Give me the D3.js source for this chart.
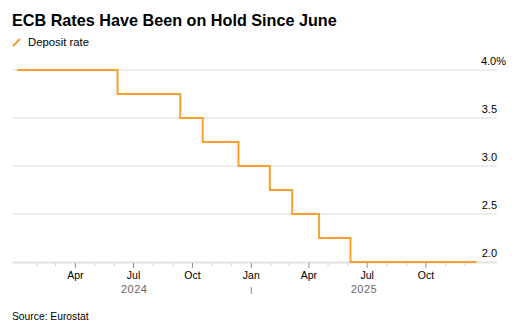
<!DOCTYPE html>
<html><head><meta charset="utf-8">
<script src="https://cdn.jsdelivr.net/npm/d3@7"></script>
<style>
body{margin:0;background:#fff;}
text{font-family:"Liberation Sans",Arial,sans-serif;}
</style></head>
<body><svg id="c" width="520" height="335"></svg>
<script>
const changeDates = ["2024-01-01","2024-06-06","2024-09-12","2024-10-17","2024-12-12","2025-01-30","2025-03-06","2025-04-17","2025-06-05","2025-12-19"];
const depositRate = [4.0,3.75,3.5,3.25,3.0,2.75,2.5,2.25,2.0,2.0];
const yTicks = [2.0,2.5,3.0,3.5,4.0];
const yearLabels = ["2024","2025"];

const parse = d3.timeParse("%Y-%m-%d");
const data = changeDates.map((d,i)=>({date:parse(d), v:depositRate[i]}));
const svg = d3.select("#c");
const orange = "#f7a12c";

const x = d3.scaleTime().domain([new Date(2023,11,24), new Date(2026,0,20)]).range([12,497]);
const y = d3.scaleLinear().domain([2,4]).range([262,70]);

// title
svg.append("text").attr("x",12).attr("y",26).attr("font-size",16.2).attr("font-weight","bold").attr("fill","#000")
  .text("ECB Rates Have Been on Hold Since June");
// legend
svg.append("line").attr("x1",13).attr("y1",46).attr("x2",20).attr("y2",39).attr("stroke",orange).attr("stroke-width",2.2);
svg.append("text").attr("x",28).attr("y",45.5).attr("font-size",11.3).attr("fill","#000").text("Deposit rate");

// gridlines
svg.append("g").selectAll("line").data(yTicks.filter(t=>t>2)).join("line")
  .attr("x1",12).attr("x2",497).attr("y1",d=>y(d)).attr("y2",d=>y(d))
  .attr("stroke","#dcdcdc").attr("stroke-width",1);
// y labels (top one carries the % sign, which hangs past the right edge)
const yl = svg.append("g").selectAll("text").data(yTicks).join("text")
  .attr("x",497).attr("y",d=>y(d)-5).attr("font-size",11).attr("fill","#000")
  .attr("text-anchor","end");
yl.filter(d=>d!==4).text(d=>d.toFixed(1));
yl.filter(d=>d===4).attr("x",506).text(d=>d.toFixed(1)+"%");

// x axis baseline
svg.append("line").attr("x1",12).attr("x2",497).attr("y1",262.5).attr("y2",262.5).attr("stroke","#e3e3e3").attr("stroke-width",2);
// minor monthly ticks
const months = d3.timeMonth.range(new Date(2024,0,1), new Date(2026,0,20));
svg.append("g").selectAll("line").data(months.filter(d=>d.getMonth()%3!==0)).join("line")
  .attr("x1",d=>x(d)).attr("x2",d=>x(d)).attr("y1",263).attr("y2",266)
  .attr("stroke","#d0d0d0").attr("stroke-width",1);
// major quarterly ticks
const quarters = months.filter(d=>d.getMonth()%3===0 && x(d)>30 && x(d)<460);
svg.append("g").selectAll("line").data(quarters).join("line")
  .attr("x1",d=>x(d)).attr("x2",d=>x(d)).attr("y1",263).attr("y2",268)
  .attr("stroke","#8a8a8a").attr("stroke-width",1);
const fmt = d3.timeFormat("%b");
svg.append("g").selectAll("text").data(quarters).join("text")
  .attr("x",d=>x(d)).attr("y",279).attr("text-anchor","middle").attr("font-size",10.5).attr("fill","#000")
  .text(d=>fmt(d));
// year separator
svg.append("line").attr("x1",x(new Date(2025,0,1))).attr("x2",x(new Date(2025,0,1))).attr("y1",287).attr("y2",294)
  .attr("stroke","#8a8a8a").attr("stroke-width",1);
// year labels centred in data extent per year
const dStart = data[0].date, dEnd = data[data.length-1].date;
yearLabels.forEach(yr=>{
  const a = d3.max([dStart,new Date(+yr,0,1)]), b = d3.min([dEnd,new Date(+yr+1,0,1)]);
  svg.append("text").attr("x",(x(a)+x(b))/2).attr("y",292.5).attr("text-anchor","middle")
    .attr("font-size",11).attr("fill","#666").attr("letter-spacing",0.5).text(yr);
});

// step line
const line = d3.line().x(d=>x(d.date)).y(d=>y(d.v)).curve(d3.curveStepAfter);
svg.append("path").datum(data).attr("d",line).attr("fill","none").attr("stroke",orange).attr("stroke-width",2);

// source
svg.append("text").attr("x",12).attr("y",320).attr("font-size",10.3).attr("fill","#000").text("Source: Eurostat");
</script></body></html>
